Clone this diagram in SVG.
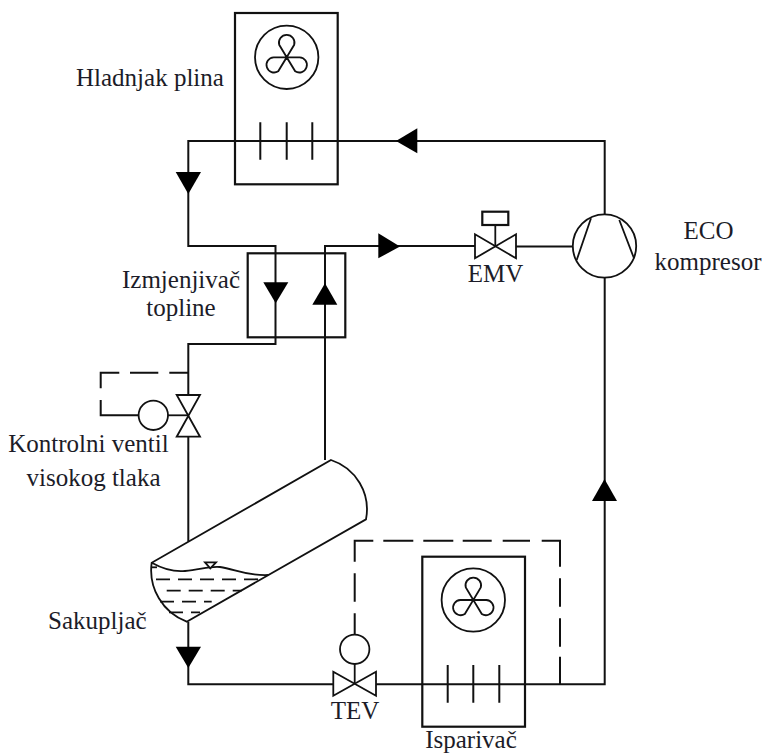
<svg xmlns="http://www.w3.org/2000/svg" width="765" height="753" viewBox="0 0 765 753">
<style>
.p{fill:none;stroke:#111;stroke-width:2;stroke-linejoin:miter}
.t{fill:none;stroke:#111;stroke-width:1.8}
.b{fill:none;stroke:#111;stroke-width:2.2}
.v{fill:#fff;stroke:#111;stroke-width:1.8}
.a{fill:#000;stroke:none}
text{font-family:"Liberation Serif","Times New Roman",serif;font-size:25px;fill:#1c1c28}
.m{text-anchor:middle}
</style>
<defs>
<g id="fan"><circle r="31.7" class="t"/><path class="t" d="M0,0L-7.500,-12.500A7.800,7.800 0 1 1 7.500,-12.500ZM0,0H-13A7.600,7.600 0 1 0 -8.500,14ZM0,0H13A7.600,7.600 0 1 1 8.500,14Z"/></g>
</defs>
<rect width="765" height="753" fill="#fff"/>
<g id="connectors">
<path class="p" d="M417,141H188.300V246H275.500V344H188.300V395"/>
<path class="p" d="M188.300,436.700V541.500"/>
<path class="p" d="M325,460V246H475"/>
<path class="p" d="M516,246.500H572.700"/>
<path class="p" d="M417,141H604.700V214.500"/>
<path class="p" d="M604.700,278V684.300H376"/>
<path class="p" d="M333.300,684.300H188.300V621.700"/>
<path class="p" d="M188.300,372.700H169.300M158.300,372.700H130M119.300,372.700H100.700V388.300M100.700,400V415.300H139"/>
<path class="t" d="M168,415.300H188.300"/>
<path class="p" d="M354.700,634.500V613.300M354.700,601.700V573.300M354.700,561.700V540.700H373.300M383.300,540.700H413.300M423.300,540.700H453.300M462.700,540.700H491.700M502.700,540.700H530M541.700,540.700H560V566.700M560,578.300V606.700M560,618.300V646.700M560,656.700V684.300"/>
<path class="a" d="M175.700,172H201L188.300,194Z"/>
<path class="a" d="M396,141L417.300,128.300V153.300Z"/>
<path class="a" d="M263.300,282.300H288.300L275.700,303.300Z"/>
<path class="a" d="M312.300,304.700H337.300L325,283.300Z"/>
<path class="a" d="M378.300,233.300V258.300L400,246.500Z"/>
<path class="a" d="M592,501H617L604.500,479Z"/>
<path class="a" d="M175.700,646.700H201L188.300,668Z"/>
</g>
<g id="gas-cooler">
<rect class="b" x="235" y="13" width="102.700" height="171.300"/>
<use href="#fan" x="286.700" y="57.300"/>
<path class="p" d="M260.300,122.300V159.700M286.700,122.300V159.700M312.300,122.300V159.700"/>
</g>
<g id="heat-exchanger"><rect class="b" x="247.700" y="253.300" width="97.600" height="84"/></g>
<g id="hp-valve">
<circle class="v" cx="153.300" cy="415.300" r="14.700"/>
<path class="v" d="M176.700,395H200L176.700,436.700H200Z"/>
</g>
<g id="receiver">
<path class="t" d="M331,460A52,52 0 0 1 366,519.300L186.700,621.700A55,55 0 0 1 151.700,562.700Z"/>
<path class="t" d="M151.700,562.700C165,570 175,572 185,571C200,570 208,566 220,567C235,569 245,576 268.300,575"/>
<path class="v" d="M205,562.300H216L210.300,568.300Z"/>
<path class="t" d="M152,567.300H157"/>
<path class="t" stroke-dasharray="14 8" d="M156,579.300H263"/>
<path class="t" stroke-dasharray="14 8" d="M166.700,590.700H241.700"/>
<path class="t" stroke-dasharray="14 8" d="M160,601.700H211.700"/>
<path class="t" stroke-dasharray="14 8" d="M169,612.300H200"/>
</g>
<g id="tev">
<circle class="v" cx="354.700" cy="649.300" r="14.700"/>
<path class="t" d="M354.700,664V684.300"/>
<path class="v" d="M333.300,671.700V695.700L376,671.700V695.700Z"/>
</g>
<g id="evaporator">
<rect class="b" x="422.300" y="556.700" width="102.700" height="170"/>
<use href="#fan" x="473.300" y="600"/>
<path class="p" d="M447.700,665V702.700M473.300,665V702.700M499.300,665V702.700"/>
</g>
<g id="emv">
<rect class="b" x="482.300" y="211.700" width="26" height="13.300"/>
<path class="t" d="M495.300,225V246.500"/>
<path class="v" d="M475,234.300V258.300L516,234.300V258.300Z"/>
</g>
<g id="compressor">
<circle class="t" cx="604.500" cy="246" r="31.700"/>
<path class="t" d="M591,218.300L576.700,260M619.300,220L634,258.300"/>
</g>
<g id="labels">
<text x="76" y="86">Hladnjak plina</text>
<text class="m" x="181" y="288">Izmjenjivač</text>
<text class="m" x="181" y="316">topline</text>
<text class="m" x="88.500" y="452">Kontrolni ventil</text>
<text class="m" x="93.500" y="486">visokog tlaka</text>
<text class="m" x="708.500" y="239">ECO</text>
<text class="m" x="708" y="270">kompresor</text>
<text x="48" y="629">Sakupljač</text>
<text class="m" x="495.500" y="282">EMV</text>
<text class="m" x="355" y="719">TEV</text>
<text class="m" x="471" y="748">Isparivač</text>
</g>
</svg>
